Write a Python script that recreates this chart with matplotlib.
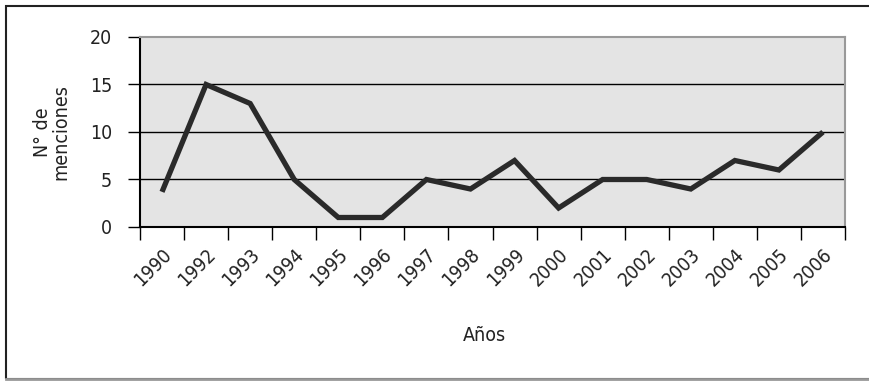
import matplotlib.pyplot as plt
from matplotlib.patches import Rectangle
from matplotlib.lines import Line2D
import numpy as np

plt.rcParams['font.family'] = ['Liberation Sans Narrow', 'DejaVu Sans']
plt.rcParams['font.stretch'] = 'condensed'

# datos
anios = ['1990', '1992', '1993', '1994', '1995', '1996', '1997', '1998',
         '1999', '2000', '2001', '2002', '2003', '2004', '2005', '2006']
menciones = [3.7, 15, 13, 5, 1, 1, 5, 4, 7, 2, 5, 5, 4, 7, 6, 10]
y_ticks = [0, 5, 10, 15, 20]

fig = plt.figure(figsize=(8.69, 3.81), dpi=100)
ax = fig.add_axes([0.1611, 0.4042, 0.8113, 0.4987])

x = np.arange(len(anios))
ax.set_facecolor('#e4e4e4')
for v in y_ticks[1:-1]:
    ax.axhline(v, color='black', linewidth=1.0, zorder=1)
ax.plot(x, menciones, color='#2a2a2a', linewidth=3.8,
        solid_joinstyle='miter', solid_capstyle='butt', zorder=3)

ax.set_xlim(-0.5, len(anios) - 0.5)
ax.set_ylim(0, 20)
ax.set_yticks(y_ticks)
ax.set_yticklabels([str(v) for v in y_ticks], fontsize=14, color='#222222')

# marcas en los limites de cada categoria, etiquetas al centro
ax.set_xticks(np.arange(-0.5, len(anios), 1.0))
ax.set_xticklabels([])
ax.set_xticks(x, minor=True)
ax.set_xticklabels(anios, minor=True, rotation=45, ha='right',
                   rotation_mode='anchor', fontsize=14, color='#222222')
ax.tick_params(axis='x', which='minor', length=0, pad=13)
ax.tick_params(axis='x', which='major', length=9, width=1.0, direction='out')
ax.tick_params(axis='y', length=9, width=1.0, direction='out', pad=11)

ax.spines['left'].set_linewidth(1.5)
ax.spines['bottom'].set_linewidth(1.5)
ax.spines['top'].set_color('#999999')
ax.spines['right'].set_color('#999999')
ax.spines['top'].set_linewidth(1.5)
ax.spines['right'].set_linewidth(1.5)

ax.set_ylabel('N° de\nmenciones', fontsize=14, labelpad=14, linespacing=1.0,
              color='#222222')
fig.text(0.558, 0.12, 'Años', fontsize=14, ha='center', va='center',
         color='#222222')

# marco exterior (sigue más allá del borde derecho)
fig.patches.append(Rectangle((6 / 869, 2 / 381), 1.2, 373 / 381,
                             transform=fig.transFigure, fill=False,
                             edgecolor='#222222', linewidth=1.5))
fig.lines.append(Line2D([6 / 869, 1.0], [2 / 381, 2 / 381],
                        transform=fig.transFigure, color='#999999',
                        linewidth=2.0))

fig.savefig('out.png', dpi=100)
